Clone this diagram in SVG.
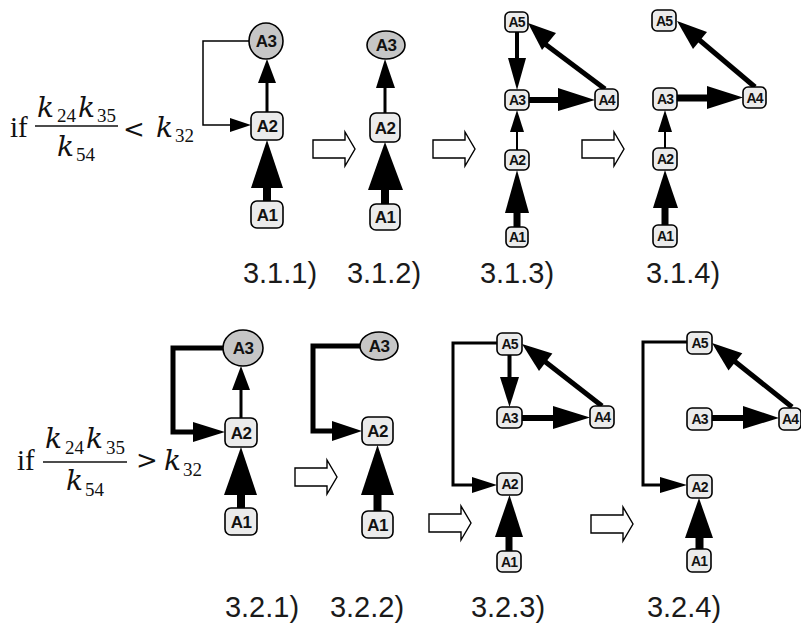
<svg xmlns="http://www.w3.org/2000/svg" xmlns:xlink="http://www.w3.org/1999/xlink" width="801" height="626" viewBox="0 0 801 626">
<style>
.box{fill:#ebebeb;stroke:#000;stroke-width:1.6}
.circ{fill:#c6c6c6;stroke:#000;stroke-width:1.6}
.lbl{font-family:"Liberation Sans",Arial,sans-serif;font-weight:bold;font-size:17px;text-anchor:middle;letter-spacing:-0.7px;fill:#111}
.lbls{font-family:"Liberation Sans",Arial,sans-serif;font-weight:bold;font-size:14px;text-anchor:middle;letter-spacing:-1px;fill:#111}
.ln{fill:none;stroke:#000;stroke-linejoin:miter}
.hd{fill:#000;stroke:none}
.step{fill:#fff;stroke:#000;stroke-width:1.4}
.cap{font-family:"Liberation Sans",Arial,sans-serif;font-size:29px;text-anchor:middle;fill:#1a1a1a}
.m{font-family:"Liberation Serif","Times New Roman",serif;font-size:29px;fill:#111}
.mk{font-family:"DejaVu Serif",serif;font-style:italic;font-size:28px;fill:#111}
.ms{font-family:"Liberation Serif","Times New Roman",serif;font-size:19px;fill:#111}
.mo{font-family:"DejaVu Serif",serif;font-size:26px;fill:#111}
</style>
<defs>
<path id="step" class="step" d="M0,-9 H32 V-17 L42,0 L32,17 V9 H0 Z"/>
</defs>

<g id="formula1">
<text class="m" x="10" y="137">if</text>
<text class="mk" x="37" y="117">k</text><text class="ms" x="57" y="122">24</text>
<text class="mk" x="78" y="117">k</text><text class="ms" x="97" y="122">35</text>
<line x1="35" y1="126" x2="118" y2="126" stroke="#111" stroke-width="1.4"/>
<text class="mk" x="57" y="156">k</text><text class="ms" x="76" y="161">54</text>
<text class="mo" x="123" y="138">&lt;</text>
<text class="mk" x="156" y="137">k</text><text class="ms" x="175" y="142">32</text>
</g>
<g id="formula2">
<text class="m" x="17" y="470">if</text>
<text class="mk" x="45" y="448">k</text><text class="ms" x="65" y="454">24</text>
<text class="mk" x="86" y="448">k</text><text class="ms" x="106" y="454">35</text>
<line x1="43" y1="462" x2="127" y2="462" stroke="#111" stroke-width="1.4"/>
<text class="mk" x="66" y="490">k</text><text class="ms" x="85" y="496">54</text>
<text class="mo" x="136" y="469">&gt;</text>
<text class="mk" x="164" y="470">k</text><text class="ms" x="183" y="476">32</text>
</g>

<g id="steps">
<use xlink:href="#step" href="#step" x="313" y="149"/>
<use xlink:href="#step" href="#step" x="433" y="149"/>
<use xlink:href="#step" href="#step" x="582" y="149"/>
<use xlink:href="#step" href="#step" x="295" y="477"/>
<use xlink:href="#step" href="#step" x="429" y="523"/>
<use xlink:href="#step" href="#step" x="591" y="524"/>
</g>

<g id="connectors">
<!-- 3.1.1 -->
<polyline class="ln" stroke-width="1.5" points="249,41 203,41 203,125 232,125"/>
<polygon class="hd" points="230,118 230,132 251,125"/>
<line class="ln" stroke-width="3" x1="267" y1="112" x2="267" y2="80"/>
<polygon class="hd" points="258,83 276,83 267,59"/>
<rect class="hd" x="263" y="186" width="8" height="16"/>
<polygon class="hd" points="251,188 283,188 267,140"/>
<!-- 3.1.2 -->
<line class="ln" stroke-width="3" x1="385" y1="113" x2="385" y2="86"/>
<polygon class="hd" points="376,88 395,88 385,59"/>
<rect class="hd" x="381" y="188" width="8" height="17"/>
<polygon class="hd" points="368,190 403,190 385,142"/>
<!-- 3.1.3 -->
<line class="ln" stroke-width="4" x1="517" y1="32" x2="517" y2="60"/>
<polygon class="hd" points="508,58 526,58 517,90"/>
<line class="ln" stroke-width="6" x1="529" y1="100" x2="560" y2="100"/>
<polygon class="hd" points="558,88 558,111 595,100"/>
<line class="ln" stroke-width="5" x1="605" y1="89" x2="545" y2="44"/>
<polygon class="hd" points="528,23 556,33 542,50"/>
<line class="ln" stroke-width="2" x1="517" y1="150" x2="517" y2="130"/>
<polygon class="hd" points="510,132 524,132 517,110"/>
<rect class="hd" x="513.5" y="211" width="7" height="17"/>
<polygon class="hd" points="505,213 529,213 517,170"/>
<!-- 3.1.4 -->
<line class="ln" stroke-width="7" x1="677" y1="98" x2="710" y2="98"/>
<polygon class="hd" points="707,86 707,109 743,97.5"/>
<line class="ln" stroke-width="5" x1="755" y1="87" x2="697" y2="38"/>
<polygon class="hd" points="677,21 707,32 693,49"/>
<line class="ln" stroke-width="2" x1="665" y1="148" x2="665" y2="130"/>
<polygon class="hd" points="658,132 672,132 665,110"/>
<rect class="hd" x="661.5" y="206" width="7" height="20"/>
<polygon class="hd" points="653,208 678,208 665,170"/>
<!-- 3.2.1 -->
<polyline class="ln" stroke-width="5" points="223,348 173,348 173,432 195,432"/>
<polygon class="hd" points="193,422 193,442 225,432"/>
<line class="ln" stroke-width="3" x1="241" y1="418" x2="241" y2="388"/>
<polygon class="hd" points="232,390 250,390 241,366"/>
<rect class="hd" x="237" y="493" width="8" height="16"/>
<polygon class="hd" points="224,495 257,495 241,447"/>
<!-- 3.2.2 -->
<polyline class="ln" stroke-width="5" points="360,346 313,346 313,431 334,431"/>
<polygon class="hd" points="332,421 332,441 362,431"/>
<rect class="hd" x="373.5" y="493" width="8" height="19"/>
<polygon class="hd" points="361,495 394,495 377.5,445"/>
<!-- 3.2.3 -->
<polyline class="ln" stroke-width="3" points="497,343 453,343 453,485 475,485"/>
<polygon class="hd" points="472,477 472,493 497,485"/>
<line class="ln" stroke-width="4" x1="509.5" y1="355" x2="509.5" y2="380"/>
<polygon class="hd" points="500,377 519,377 509.5,407"/>
<line class="ln" stroke-width="6" x1="522" y1="418" x2="556" y2="418"/>
<polygon class="hd" points="553,406 553,429 590,417.5"/>
<line class="ln" stroke-width="5" x1="602" y1="406" x2="543" y2="360"/>
<polygon class="hd" points="522,344 552.4,353.6 539,371"/>
<rect class="hd" x="505.5" y="535" width="7" height="17"/>
<polygon class="hd" points="495,537 523,537 509.5,495"/>
<!-- 3.2.4 -->
<polyline class="ln" stroke-width="3" points="687,342 643,342 643,485 663,485"/>
<polygon class="hd" points="660,477 660,493 687,485"/>
<line class="ln" stroke-width="6" x1="712" y1="418" x2="746" y2="418"/>
<polygon class="hd" points="743,406 743,429 779,418"/>
<line class="ln" stroke-width="5" x1="792" y1="407" x2="733" y2="360"/>
<polygon class="hd" points="712,343 742.3,353.2 728.5,370.4"/>
<rect class="hd" x="695.5" y="536" width="8" height="13"/>
<polygon class="hd" points="685,538 713,538 699,498"/>
</g>

<!-- 3.1.1 nodes -->
<g id="p311_A3"><ellipse class="circ" cx="266" cy="41" rx="17" ry="18"/><text class="lbl" x="266" y="47">A3</text></g>
<g id="p311_A2"><rect class="box" x="251" y="112" width="32" height="28" rx="6"/><text class="lbl" x="267" y="132">A2</text></g>
<g id="p311_A1"><rect class="box" x="251" y="201" width="32" height="27" rx="6"/><text class="lbl" x="267" y="220.5">A1</text></g>
<!-- 3.1.2 nodes -->
<g id="p312_A3"><ellipse class="circ" cx="386" cy="45" rx="19" ry="14"/><text class="lbl" x="386" y="51">A3</text></g>
<g id="p312_A2"><rect class="box" x="370" y="113" width="30" height="29" rx="6"/><text class="lbl" x="385" y="133.5">A2</text></g>
<g id="p312_A1"><rect class="box" x="370" y="204" width="30" height="26" rx="6"/><text class="lbl" x="385" y="223">A1</text></g>
<!-- 3.1.3 nodes -->
<g id="p313_A5"><rect class="box" x="505" y="12" width="23" height="20" rx="5"/><text class="lbls" x="516.5" y="27">A5</text></g>
<g id="p313_A3"><rect class="box" x="505" y="90" width="24" height="20" rx="5"/><text class="lbls" x="517" y="105">A3</text></g>
<g id="p313_A4"><rect class="box" x="595" y="89" width="23" height="21" rx="5"/><text class="lbls" x="606.5" y="104.5">A4</text></g>
<g id="p313_A2"><rect class="box" x="505" y="150" width="24" height="20" rx="5"/><text class="lbls" x="517" y="165">A2</text></g>
<g id="p313_A1"><rect class="box" x="506" y="227" width="22" height="20" rx="5"/><text class="lbls" x="517" y="242">A1</text></g>
<!-- 3.1.4 nodes -->
<g id="p314_A5"><rect class="box" x="652" y="10" width="24" height="21" rx="5"/><text class="lbls" x="664" y="25.5">A5</text></g>
<g id="p314_A3"><rect class="box" x="653" y="88" width="24" height="22" rx="5"/><text class="lbls" x="665" y="104">A3</text></g>
<g id="p314_A4"><rect class="box" x="743" y="87" width="23" height="21" rx="5"/><text class="lbls" x="754.5" y="102.5">A4</text></g>
<g id="p314_A2"><rect class="box" x="653" y="148" width="24" height="22" rx="5"/><text class="lbls" x="665" y="164">A2</text></g>
<g id="p314_A1"><rect class="box" x="653" y="225" width="24" height="22" rx="5"/><text class="lbls" x="665" y="241">A1</text></g>
<!-- 3.2.1 nodes -->
<g id="p321_A3"><ellipse class="circ" cx="243" cy="348" rx="20" ry="18"/><text class="lbl" x="243" y="354">A3</text></g>
<g id="p321_A2"><rect class="box" x="225" y="418" width="32" height="29" rx="6"/><text class="lbl" x="241" y="438.5">A2</text></g>
<g id="p321_A1"><rect class="box" x="225" y="508" width="32" height="27" rx="6"/><text class="lbl" x="241" y="527.5">A1</text></g>
<!-- 3.2.2 nodes -->
<g id="p322_A3"><ellipse class="circ" cx="379" cy="346" rx="19" ry="14"/><text class="lbl" x="379" y="352">A3</text></g>
<g id="p322_A2"><rect class="box" x="362" y="417" width="31" height="28" rx="6"/><text class="lbl" x="377.5" y="437">A2</text></g>
<g id="p322_A1"><rect class="box" x="362" y="511" width="31" height="27" rx="6"/><text class="lbl" x="377.5" y="530.5">A1</text></g>
<!-- 3.2.3 nodes -->
<g id="p323_A5"><rect class="box" x="497" y="333" width="25" height="22" rx="5"/><text class="lbls" x="509.5" y="349">A5</text></g>
<g id="p323_A3"><rect class="box" x="497" y="407" width="25" height="21" rx="5"/><text class="lbls" x="509.5" y="422.5">A3</text></g>
<g id="p323_A4"><rect class="box" x="590" y="406" width="24" height="22" rx="5"/><text class="lbls" x="602" y="422">A4</text></g>
<g id="p323_A2"><rect class="box" x="497" y="473" width="25" height="22" rx="5"/><text class="lbls" x="509.5" y="489">A2</text></g>
<g id="p323_A1"><rect class="box" x="497" y="551" width="24" height="21" rx="5"/><text class="lbls" x="509" y="566.5">A1</text></g>
<!-- 3.2.4 nodes -->
<g id="p324_A5"><rect class="box" x="687" y="332" width="25" height="22" rx="5"/><text class="lbls" x="699.5" y="348">A5</text></g>
<g id="p324_A3"><rect class="box" x="687" y="408" width="25" height="22" rx="5"/><text class="lbls" x="699.5" y="424">A3</text></g>
<g id="p324_A4"><rect class="box" x="779" y="408" width="22" height="22" rx="5"/><text class="lbls" x="790" y="424">A4</text></g>
<g id="p324_A2"><rect class="box" x="687" y="475" width="25" height="23" rx="5"/><text class="lbls" x="699.5" y="491.5">A2</text></g>
<g id="p324_A1"><rect class="box" x="687" y="549" width="24" height="23" rx="5"/><text class="lbls" x="699" y="565.5">A1</text></g>

<g id="captions">
<text class="cap" x="280" y="283">3.1.1)</text>
<text class="cap" x="384" y="283">3.1.2)</text>
<text class="cap" x="517" y="283">3.1.3)</text>
<text class="cap" x="683" y="283">3.1.4)</text>
<text class="cap" x="262" y="617">3.2.1)</text>
<text class="cap" x="367" y="617">3.2.2)</text>
<text class="cap" x="508" y="617">3.2.3)</text>
<text class="cap" x="684" y="617">3.2.4)</text>
</g>
</svg>
